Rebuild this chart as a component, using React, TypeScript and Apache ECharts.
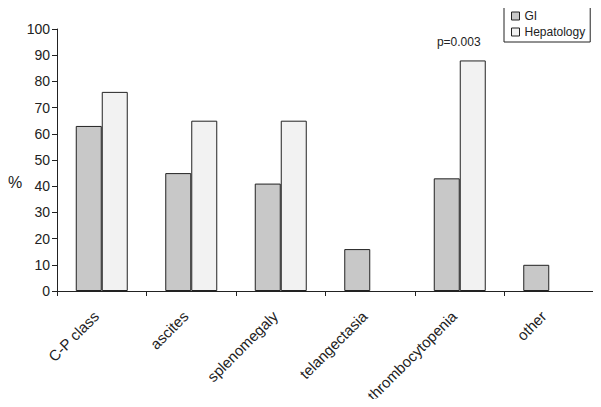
import React, { useEffect, useRef } from "react";
import * as echarts from "echarts";

const categories = ["C-P class", "ascites", "splenomegaly", "telangectasia", "thrombocytopenia", "other"];
const giValues = [63, 45, 41, 16, 43, 10];
const hepValues: (number | null)[] = [76, 65, 65, null, 88, null];
const yTicks = { min: 0, max: 100, interval: 10 };
const annotation = { index: 4, text: "p=0.003" };
const yAxisTitle = "%";

const FONT = "Liberation Sans, Arial, sans-serif";

export default function App() {
  const ref = useRef<HTMLDivElement>(null);
  useEffect(() => {
    if (!ref.current) return;
    const chart = echarts.init(ref.current, null, { renderer: "svg" });
    const hepData = hepValues.map((v, i) =>
      i === annotation.index
        ? {
            value: v,
            label: {
              show: true,
              position: "top",
              formatter: annotation.text,
              distance: 12,
              offset: [-14, 0],
              color: "#222",
              fontSize: 12,
              fontFamily: FONT,
            },
          }
        : v === null
        ? "-"
        : v
    );
    chart.setOption({
      animation: false,
      backgroundColor: "#fff",
      textStyle: { fontFamily: FONT },
      grid: { left: 57, right: 7, top: 29, bottom: 116, containLabel: false },
      graphic: [
        {
          type: "text",
          left: 8,
          top: 174,
          style: { text: yAxisTitle, fontSize: 16, fill: "#222", fontFamily: FONT },
        },
      ],
      legend: {
        orient: "vertical",
        left: 504,
        top: 7,
        padding: [3, 5, 4, 7],
        borderColor: "#222",
        borderWidth: 1,
        itemWidth: 8,
        itemHeight: 8,
        itemGap: 4,
        icon: "rect",
        textStyle: { fontSize: 12, color: "#222", fontFamily: FONT },
        data: [
          { name: "GI", itemStyle: { color: "#c8c8c8", borderColor: "#222", borderWidth: 1 } },
          { name: "Hepatology", itemStyle: { color: "#f2f2f2", borderColor: "#222", borderWidth: 1 } },
        ],
      },
      xAxis: {
        type: "category",
        data: categories,
        boundaryGap: true,
        axisLine: { lineStyle: { color: "#222", width: 1 } },
        axisTick: { show: true, length: 5, alignWithLabel: false, lineStyle: { color: "#222" } },
        axisLabel: {
          rotate: 45,
          margin: 17,
          padding: [0, 8, 0, 0],
          fontSize: 15,
          color: "#222",
          fontFamily: FONT,
          interval: 0,
        },
      },
      yAxis: {
        type: "value",
        min: yTicks.min,
        max: yTicks.max,
        interval: yTicks.interval,
        axisLine: { show: true, lineStyle: { color: "#222", width: 1 } },
        axisTick: { show: true, length: 5, lineStyle: { color: "#222" } },
        axisLabel: { fontSize: 14, color: "#222", margin: 7, fontFamily: FONT },
        splitLine: { show: false },
      },
      series: [
        {
          name: "GI",
          type: "bar",
          data: giValues,
          barWidth: 26,
          barGap: "0%",
          itemStyle: { color: "#c8c8c8", borderColor: "#222", borderWidth: 1 },
        },
        {
          name: "Hepatology",
          type: "bar",
          data: hepData,
          barWidth: 26,
          barGap: "0%",
          itemStyle: { color: "#f2f2f2", borderColor: "#222", borderWidth: 1 },
        },
      ],
    });
    return () => chart.dispose();
  }, []);
  return <div ref={ref} style={{ width: 601, height: 407, margin: -8 }} />;
}
